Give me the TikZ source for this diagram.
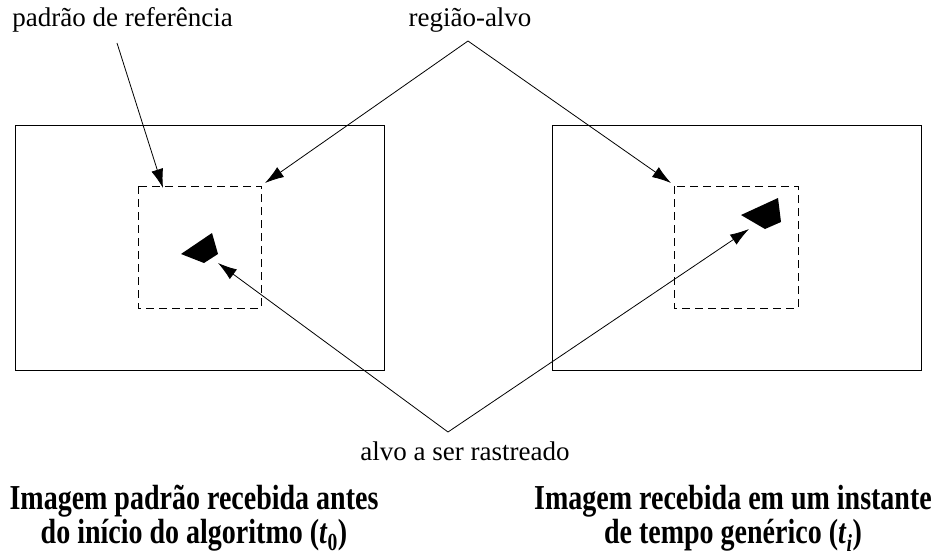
\documentclass[tikz,border=0pt]{standalone}
\usepackage{fontspec}
\setmainfont{Liberation Serif}
\newfontfamily\legenda[FakeStretch=0.8]{Liberation Serif}
\usetikzlibrary{arrows.meta}
\begin{document}
\begin{tikzpicture}[x=1pt,y=-1pt,line width=0.8pt,
        >={Latex[length=19pt,width=12pt]},
        rotulo/.style={anchor=base,inner sep=0pt,font=\fontsize{27}{33}\selectfont},
        titulo/.style={anchor=base,align=center,inner sep=0pt,font=\legenda\bfseries\fontsize{35}{31}\selectfont},
        tracejado/.style={dash pattern=on 8pt off 5pt}]
                \useasboundingbox (0,0) rectangle (936,558);
                % janelas das imagens
                \draw (15,125) rectangle (384,370);
                \draw (552,125) rectangle (921,370);
                \draw[tracejado] (138,186) rectangle (261,308);
                \draw[tracejado] (674,186) rectangle (798,308);
                % alvo
                \fill (181,254) -- (212,233) -- (218,254) -- (204,263) -- cycle;
                \fill (741,215) -- (778,198) -- (781,222) -- (765,229) -- cycle;
                % rotulos
                \node[rotulo,anchor=base west] (padrao) at (12,26) {padrão de referência};
                \node[rotulo] (regiao) at (470,26) {região-alvo};
                \node[rotulo] (alvo) at (465,460) {alvo a ser rastreado};
                \node[titulo] (img0) at (194,543) {Imagem padrão recebida antes\\do início do algoritmo (\textit{t}\textsubscript{0})};
                \node[titulo] (imgi) at (733,543) {Imagem recebida em um instante\\de tempo genérico (\textit{t}\textsubscript{\textit{i}})};
                % pontas
                \coordinate (p0) at (117,43);
                \coordinate (r0) at (468,41);
                \coordinate (a0) at (448,432);
                \coordinate (pA) at (163,188);
                \coordinate (rA) at (265,183);
                \coordinate (rB) at (671,183);
                \coordinate (aA) at (218,263);
                \coordinate (aB) at (749,229);
                \draw[->] (p0) -- (pA);
                \foreach \x in {rA,rB}{
                        \draw[->] (r0) -- (\x);
                    }
                \foreach \x in {aA,aB}{
                        \draw[->] (a0) -- (\x);
                    }
\end{tikzpicture}
\end{document}
